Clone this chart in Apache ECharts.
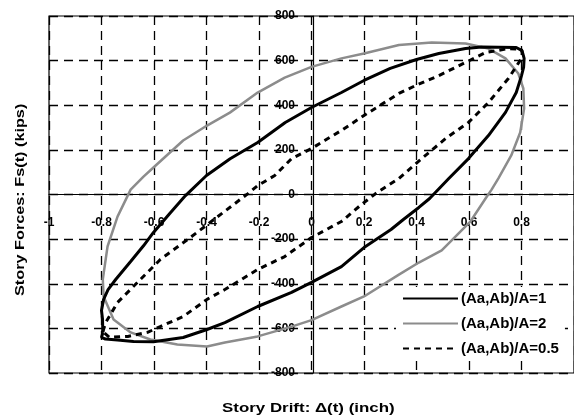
<!DOCTYPE html>
<html>
<head>
<meta charset="utf-8">
<script src="https://cdn.jsdelivr.net/npm/echarts@6/dist/echarts.min.js"></script>
<style>
html,body{margin:0;padding:0;background:#fff;}
#chart{width:574px;height:418px;}
</style>
</head>
<body>
<div id="chart"></div>
<script>
// Tick values
var xTicks = [-1, -0.8, -0.6, -0.4, -0.2, 0, 0.2, 0.4, 0.6, 0.8, 1];
var yTicks = [-800, -600, -400, -200, 0, 200, 400, 600, 800];

// Series names
var seriesNames = ['(Aa,Ab)/A=1', '(Aa,Ab)/A=2', '(Aa,Ab)/A=0.5'];

// (Aa,Ab)/A=1 loop: [drift, force]
var loopA1 = [
  [-0.795,-620],[-0.796,-560],[-0.800,-520],[-0.792,-470],[-0.775,-426],[-0.746,-381],[-0.689,-300],[-0.640,-230],[-0.602,-170],
  [-0.540,-85],[-0.480,-5],[-0.400,85],[-0.310,160],[-0.205,233],[-0.100,323],[0,390],[0.114,457],[0.200,511],
  [0.300,565],[0.400,605],[0.485,632],[0.587,654],[0.648,661],[0.712,660],[0.780,659],[0.802,645],[0.810,610],
  [0.808,570],[0.800,533],[0.780,457],[0.739,368],[0.674,264],[0.598,161],[0.523,72],[0.450,-18],[0.409,-58],
  [0.350,-112],[0.303,-157],[0.200,-238],[0.114,-323],[0,-394],[-0.076,-439],[-0.205,-502],[-0.330,-574],
  [-0.398,-605],[-0.489,-641],[-0.602,-660],[-0.678,-659],[-0.739,-652],[-0.785,-648],[-0.800,-640],[-0.795,-620]
];

// (Aa,Ab)/A=2 loop
var loopA2 = [
  [-0.795,-380],[-0.777,-233],[-0.739,-99],[-0.689,22],[-0.640,80],[-0.602,121],[-0.489,242],[-0.398,309],
  [-0.311,367],[-0.205,457],[-0.102,524],[0,572],[0.114,610],[0.200,632],[0.333,670],[0.458,681],[0.587,677],
  [0.674,654],[0.739,610],[0.788,542],[0.807,475],[0.810,385],[0.795,278],[0.761,175],[0.712,72],[0.686,22],
  [0.663,-18],[0.606,-120],[0.496,-250],[0.409,-305],[0.333,-359],[0.200,-457],[0.114,-502],[0,-563],
  [-0.076,-592],[-0.205,-636],[-0.330,-663],[-0.398,-681],[-0.511,-672],[-0.614,-650],[-0.689,-618],
  [-0.754,-560],[-0.792,-457],[-0.795,-380]
];

// (Aa,Ab)/A=0.5 loop
var loopA05 = [
  [-0.795,-615],[-0.784,-574],[-0.739,-484],[-0.663,-394],[-0.600,-320],[-0.576,-291],[-0.462,-193],[-0.337,-81],
  [-0.242,4],[-0.205,40],[-0.140,85],[-0.076,161],[0,206],[0.050,242],[0.114,287],[0.200,354],[0.333,453],
  [0.398,489],[0.485,533],[0.587,592],[0.663,636],[0.750,654],[0.800,650],[0.803,632],[0.800,610],[0.750,520],
  [0.674,412],[0.598,323],[0.511,251],[0.420,161],[0.333,72],[0.250,9],[0.190,-45],[0.114,-121],[0,-193],
  [-0.102,-278],[-0.205,-336],[-0.330,-426],[-0.398,-470],[-0.489,-547],[-0.576,-592],[-0.625,-618],
  [-0.700,-636],[-0.770,-640],[-0.795,-615]
];

var FONT = '"Liberation Sans", Arial, sans-serif';
var chart = echarts.init(document.getElementById('chart'), null, {renderer: 'canvas'});

var GRID_TOP = 16, GRID_BOTTOM = 45, GRID_LEFT = 49, GRID_RIGHT = -3;
var H = 418, W = 574;
var plotH = H - GRID_TOP - GRID_BOTTOM;
var plotW = W - GRID_LEFT - GRID_RIGHT;
// offsets so that axis line + labels sit on the zero lines
var xOffset = -plotH * (0 - yTicks[0]) / (yTicks[yTicks.length - 1] - yTicks[0]);
var yOffset = -plotW * (0 - xTicks[0]) / (xTicks[xTicks.length - 1] - xTicks[0]);

var option = {
  backgroundColor: '#fff',
  animation: false,
  grid: {
    left: GRID_LEFT, top: GRID_TOP, right: GRID_RIGHT, bottom: GRID_BOTTOM,
    show: true, borderColor: '#000', borderWidth: 1.2, backgroundColor: 'transparent'
  },
  legend: {
    orient: 'vertical',
    left: 396, top: 287,
    itemWidth: 55, itemHeight: 14, itemGap: 10,
    padding: [4, 6, 4, 6],
    backgroundColor: '#fff',
    data: seriesNames,
    itemStyle: {opacity: 0},
    textStyle: {fontFamily: FONT, fontSize: 15, lineHeight: 14, fontWeight: 'bold', color: '#000', padding: [0,0,0,-2]}
  },
  xAxis: {
    type: 'value',
    position: 'bottom',
    offset: xOffset,
    min: xTicks[0], max: xTicks[xTicks.length - 1], interval: 0.2,
    axisLine: {onZero: false, lineStyle: {color: '#000', width: 1.2}},
    axisTick: {show: false},
    axisLabel: {
      showMaxLabel: false,
      margin: 22,
      fontFamily: FONT, fontSize: 12, fontWeight: 'bold', color: '#000',
      formatter: function (v) { return String(+v.toFixed(1)); }
    },
    splitLine: {show: true, lineStyle: {color: '#000', width: 1.3, type: [9, 6]}}
  },
  yAxis: {
    type: 'value',
    position: 'left',
    offset: yOffset,
    min: yTicks[0], max: yTicks[yTicks.length - 1], interval: 200,
    axisLine: {onZero: false, lineStyle: {color: '#000', width: 1.2}},
    axisTick: {show: false},
    axisLabel: {
      margin: 18,
      fontFamily: FONT, fontSize: 12, fontWeight: 'bold', color: '#000'
    },
    splitLine: {show: true, lineStyle: {color: '#000', width: 1.3, type: [9, 6]}}
  },
  graphic: [
    {
      type: 'text', x: 222, y: 402, scaleX: 1.3,
      style: {text: 'Story Drift: \u0394(t) (inch)', font: 'bold 13px ' + FONT, fill: '#000'}
    },
    {
      type: 'text', rotation: Math.PI / 2, x: 14, y: 296, scaleX: 1.25,
      style: {text: 'Story Forces: Fs(t) (kips)', font: 'bold 13px ' + FONT, fill: '#000'}
    }
  ],
  series: [
    {
      name: seriesNames[0], type: 'line', data: loopA1, symbol: 'none', z: 4,
      lineStyle: {color: '#000', width: 3}, itemStyle: {color: '#000'}
    },
    {
      name: seriesNames[1], type: 'line', data: loopA2, symbol: 'none', z: 2,
      lineStyle: {color: '#8c8c8c', width: 2.5}, itemStyle: {color: '#8c8c8c'}
    },
    {
      name: seriesNames[2], type: 'line', data: loopA05, symbol: 'none', z: 3,
      lineStyle: {color: '#000', width: 3, type: [6, 5]}, itemStyle: {color: '#000'}
    }
  ]
};
chart.setOption(option);
</script>
</body>
</html>
